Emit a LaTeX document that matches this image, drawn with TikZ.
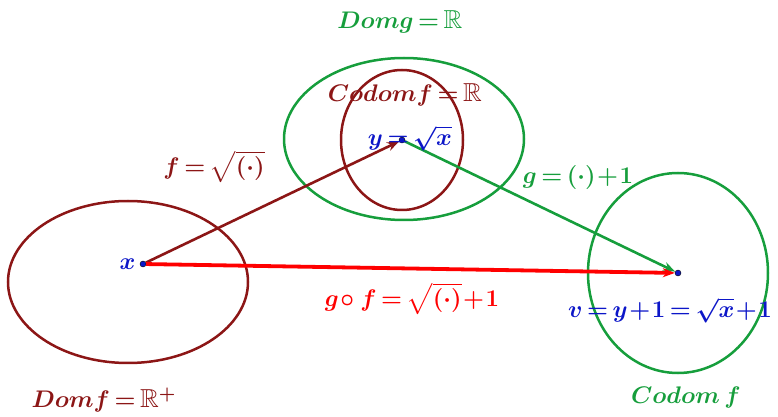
\documentclass[tikz,border=0pt]{standalone}
\usepackage{amsmath,amssymb}
\usetikzlibrary{arrows.meta}
\definecolor{darkred}{RGB}{140,22,22}
\definecolor{ggreen}{RGB}{22,158,60}
\definecolor{vblue}{RGB}{12,22,200}
\newcommand{\lblfont}{\fontsize{13}{15}\selectfont\boldmath\thickmuskip=3mu\relax\medmuskip=1mu\relax}
\begin{document}
\begin{tikzpicture}[x=0.5pt, y=-0.5pt,
    set/.style={line width=1.25pt},
    dot/.style={circle, fill=vblue, draw=black, line width=0.2pt, inner sep=0pt, minimum size=3pt},
    lbl/.style={font=\lblfont, inner sep=0pt},
    arr/.style={-{Stealth[length=6pt, width=4.5pt]}, line width=1.3pt}
]
\useasboundingbox (0,0) rectangle (778,417);
% sets
\draw[set, darkred] (128,282) ellipse [x radius=120, y radius=81];
\draw[set, ggreen] (404,139) ellipse [x radius=120, y radius=81];
\draw[set, darkred] (402,140) ellipse [x radius=61, y radius=70];
\draw[set, ggreen] (678,273) ellipse [x radius=90, y radius=100];
% points
\node[dot] (x) at (143,264) {};
\node[dot] (y) at (402,140) {};
\node[dot] (v) at (678,273) {};
% maps
\draw[arr, darkred] (x) -- (y);
\draw[arr, ggreen] (y) -- (v);
\draw[arr, red, line width=1.9pt] (x) -- (v);
% labels
\node[lbl, ggreen] (domg) at (400,22) {$Domg = \mathbb{R}$};
\node[lbl, darkred] (codomf) at (405,95) {$Codomf = \mathbb{R}$};
\node[lbl, vblue] (ylbl) at (410,138) {$y = \sqrt{x}$};
\node[lbl, darkred] (flbl) at (214,167) {$f = \sqrt{(\cdot)}$};
\node[lbl, ggreen] (glbl) at (578,178) {$g = (\cdot) + 1$};
\node[lbl, vblue, left=2pt] (xlbl) at (x.west) {$x$};
\node[lbl, red] (gflbl) at (412,299) {$g\circ\, f = \sqrt{(\cdot)} + 1$};
\node[lbl, vblue] (vlbl) at (670,310) {$v = y + 1 = \sqrt{x} + 1$};
\node[lbl, darkred] (domf) at (104,400) {$Domf = \mathbb{R}^{+}$};
\node[lbl, ggreen] (codomg) at (686,398) {$Codom\, f$};
\end{tikzpicture}
\end{document}
